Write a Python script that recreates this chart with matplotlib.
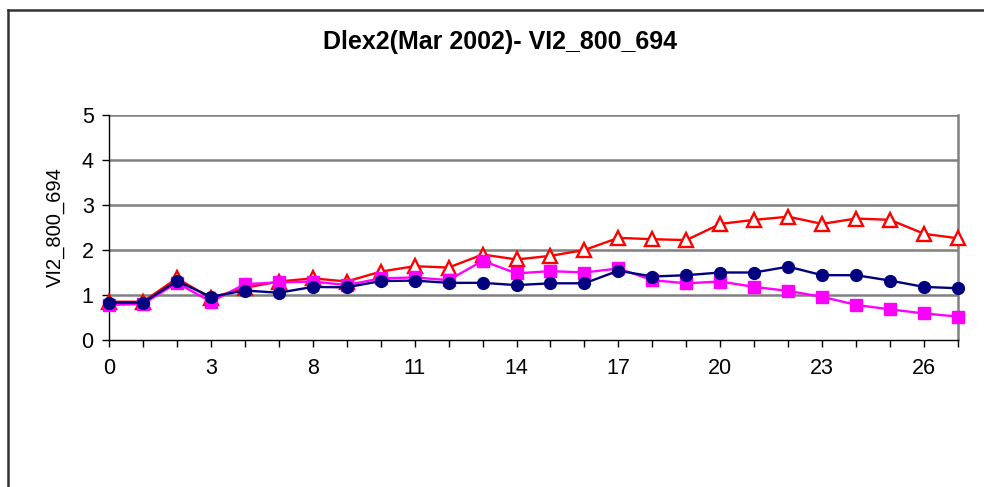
import matplotlib.pyplot as plt
from matplotlib.lines import Line2D

plt.rcParams['font.family'] = ['Liberation Sans', 'DejaVu Sans']

# category labels (only every third one is shown on the axis)
days = [0, 1, 2, 3, 5, 7, 8, 9, 10, 11, 12, 13, 14, 15, 16, 17, 18, 19,
        20, 21, 22, 23, 24, 25, 26, 27]

red_tri = [0.85, 0.85, 1.37, 0.93, 1.16, 1.30, 1.37, 1.30, 1.52, 1.64,
           1.61, 1.90, 1.79, 1.87, 2.00, 2.27, 2.24, 2.22, 2.58, 2.67,
           2.74, 2.58, 2.70, 2.67, 2.36, 2.26]
pink_sq = [0.78, 0.80, 1.27, 0.85, 1.24, 1.28, 1.30, 1.22, 1.37, 1.39,
           1.33, 1.76, 1.48, 1.53, 1.50, 1.59, 1.33, 1.26, 1.30, 1.18,
           1.09, 0.96, 0.78, 0.68, 0.59, 0.52]
navy_dot = [0.83, 0.83, 1.31, 0.96, 1.10, 1.05, 1.18, 1.17, 1.31, 1.32,
            1.27, 1.27, 1.22, 1.26, 1.26, 1.54, 1.41, 1.44, 1.50, 1.50,
            1.63, 1.44, 1.44, 1.32, 1.18, 1.15]

yticks = [0, 1, 2, 3, 4, 5]

fig = plt.figure(figsize=(9.84, 4.87), dpi=100)
ax = fig.add_axes([109/984, 1 - 340/487, (958 - 109)/984, (340 - 115)/487])

x = list(range(len(days)))
ax.plot(x, red_tri, color='#FF0000', lw=1.7, marker='^', ms=10,
        mfc='white', mec='#FF0000', mew=1.7, clip_on=False, zorder=3)
ax.plot(x, pink_sq, color='#FF00FF', lw=1.7, marker='s', ms=8,
        mfc='#FF00FF', mec='#FF00FF', clip_on=False, zorder=4)
ax.plot(x, navy_dot, color='#000080', lw=1.7, marker='o', ms=8.5,
        mfc='#000080', mec='#000080', clip_on=False, zorder=5)

ax.set_xlim(0, len(days) - 1)
ax.set_ylim(0, 5)
ax.set_yticks(yticks)
ax.set_xticks(x)
ax.set_xticklabels([str(d) if i % 3 == 0 else '' for i, d in enumerate(days)])

for y in yticks[1:]:
    ax.axhline(y, color='#808080', lw=1.8, zorder=1)

ax.spines['top'].set_visible(False)
ax.spines['right'].set_color('#808080')
ax.spines['right'].set_linewidth(1.8)
for side in ['left', 'bottom']:
    ax.spines[side].set_color('black')
    ax.spines[side].set_linewidth(1.0)

ax.tick_params(axis='both', direction='out', length=5, width=1, labelsize=15.5)
ax.tick_params(axis='x', pad=8)
ax.tick_params(axis='y', pad=6)

ax.set_ylabel('VI2_800_694', fontsize=14.5, labelpad=12)

fig.text(0.508, 1 - 42/487, 'Dlex2(Mar 2002)- VI2_800_694', ha='center', va='center',
         fontsize=18, fontweight='bold')

# outer chart-area frame (cut off at right and bottom)
fig.add_artist(Line2D([8/984, 1], [1 - 10/487] * 2, color='#333333', lw=1.8,
                      transform=fig.transFigure))
fig.add_artist(Line2D([8/984] * 2, [0, 1 - 10/487], color='#333333', lw=1.8,
                      transform=fig.transFigure))

fig.savefig('out.png', dpi=100)
